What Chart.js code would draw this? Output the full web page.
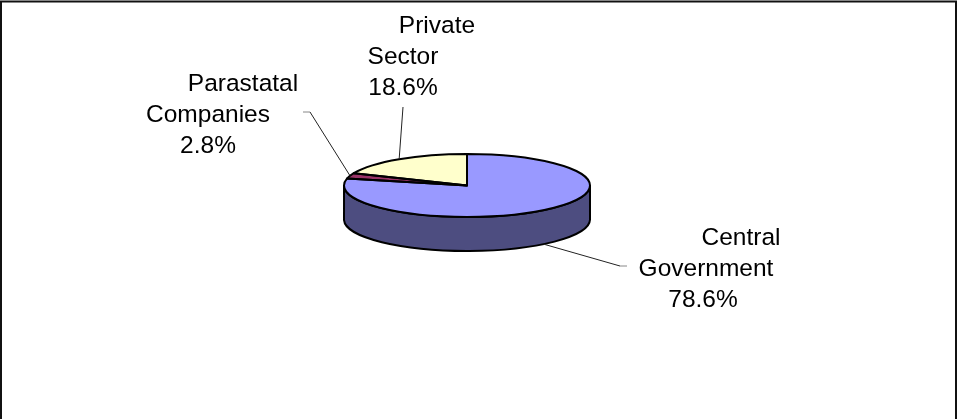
<!DOCTYPE html>
<html>
<head>
<meta charset="utf-8">
<script src="https://cdn.jsdelivr.net/npm/chart.js@4.4.1/dist/chart.umd.min.js"></script>
<style>
  html, body { margin: 0; padding: 0; background: #fff; }
  #wrap { position: relative; width: 959px; height: 419px; }
</style>
</head>
<body>
<div id="wrap"><canvas id="chart"></canvas></div>
<script>
// data
const categories = ['Central Government', 'Parastatal Companies', 'Private Sector'];
const shares = [78.6, 2.8, 18.6];
const labelLines = [
  ['Central', 'Government', '78.6%'],
  ['Parastatal', 'Companies', '2.8%'],
  ['Private', 'Sector', '18.6%']
];

// styles
const topColors = ['#9999FF', '#993366', '#FFFFCC'];
const sideColors = ['#4D4D80', '#4D1A33', '#808066'];

// layout of the fake 3d pie and the labels
const tilt = 0.256;
const depth = 34;
const font = '24.5px "Liberation Sans", Arial, sans-serif';
const lineHeight = 31;
const labelLayout = [
  { xs: [741, 706, 703], y: 245, end: [620, 266], stub: [627, 266] },
  { xs: [243, 208, 208], y: 90.5, end: [310, 112], stub: [303, 112] },
  { xs: [437, 403, 403], y: 33, end: [403, 107], stub: null }
];

function norm(a) {
  const t = Math.PI * 2;
  return ((a % t) + t) % t;
}

const pie3d = {
  id: 'pie3d',
  beforeDatasetsDraw(chart) {
    const ctx = chart.ctx;
    const arcs = chart.getDatasetMeta(0).data;

    // side walls, only the front half (0..PI) can be seen
    arcs.forEach((arc, i) => {
      const { x, y, startAngle, endAngle, outerRadius } = arc.getProps(['x', 'y', 'startAngle', 'endAngle', 'outerRadius'], true);
      const r = outerRadius;
      let s = startAngle;
      let e = endAngle;
      // walk the slice in steps to find the visible part
      const pieces = [];
      let cur = null;
      const steps = 200;
      for (let k = 0; k <= steps; k++) {
        const a = s + (e - s) * k / steps;
        const vis = norm(a) <= Math.PI;
        if (vis && !cur) cur = [a, a];
        if (vis && cur) cur[1] = a;
        if (!vis && cur) { pieces.push(cur); cur = null; }
      }
      if (cur) pieces.push(cur);

      pieces.forEach(([a, b]) => {
        if (b - a < 1e-4) return;
        ctx.save();
        ctx.beginPath();
        ctx.ellipse(x, y, r, r * tilt, 0, a, b, false);
        ctx.ellipse(x, y + depth, r, r * tilt, 0, b, a, true);
        ctx.closePath();
        ctx.fillStyle = sideColors[i];
        ctx.fill();
        ctx.lineWidth = 2;
        ctx.strokeStyle = '#000';
        ctx.lineJoin = 'round';
        ctx.stroke();
        ctx.restore();
      });
    });

    // squash the top face
    const a0 = arcs[0];
    ctx.save();
    ctx.translate(a0.x, a0.y);
    ctx.scale(1, tilt);
    ctx.translate(-a0.x, -a0.y);
  },
  afterDatasetsDraw(chart) {
    const ctx = chart.ctx;
    ctx.restore();
    const arcs = chart.getDatasetMeta(0).data;

    // outlines of the top face, drawn unscaled so the line width stays even
    arcs.forEach((arc) => {
      const { x, y, startAngle, endAngle, outerRadius } = arc.getProps(['x', 'y', 'startAngle', 'endAngle', 'outerRadius'], true);
      ctx.save();
      ctx.beginPath();
      ctx.moveTo(x, y);
      ctx.ellipse(x, y, outerRadius, outerRadius * tilt, 0, startAngle, endAngle, false);
      ctx.closePath();
      ctx.lineWidth = 2;
      ctx.lineJoin = 'round';
      ctx.strokeStyle = '#000';
      ctx.stroke();
      ctx.restore();
    });
  },
  afterDraw(chart) {
    const ctx = chart.ctx;
    const arcs = chart.getDatasetMeta(0).data;

    arcs.forEach((arc, i) => {
      const { x, y, startAngle, endAngle, outerRadius } = arc.getProps(['x', 'y', 'startAngle', 'endAngle', 'outerRadius'], true);
      const mid = (startAngle + endAngle) / 2;
      const off = norm(mid) <= Math.PI ? depth : 0;
      const px = x + outerRadius * Math.cos(mid);
      const py = y + off + outerRadius * tilt * Math.sin(mid);
      const lay = labelLayout[i];

      // leader line
      ctx.save();
      ctx.beginPath();
      ctx.moveTo(px, py);
      ctx.lineTo(lay.end[0], lay.end[1]);
      ctx.lineWidth = 1;
      ctx.strokeStyle = '#222';
      ctx.stroke();
      if (lay.stub) {
        ctx.beginPath();
        ctx.moveTo(lay.end[0], lay.end[1]);
        ctx.lineTo(lay.stub[0], lay.stub[1]);
        ctx.strokeStyle = '#888';
        ctx.stroke();
      }
      ctx.restore();

      // label text
      ctx.save();
      ctx.font = font;
      ctx.fillStyle = '#000';
      ctx.textAlign = 'center';
      ctx.textBaseline = 'alphabetic';
      labelLines[i].forEach((line, j) => {
        ctx.fillText(line, lay.xs[j], lay.y + j * lineHeight);
      });
      ctx.restore();
    });

    // frame
    ctx.save();
    ctx.beginPath();
    ctx.moveTo(1, 419);
    ctx.lineTo(1, 1.5);
    ctx.lineTo(956, 1.5);
    ctx.lineTo(956, 419);
    ctx.lineWidth = 2;
    ctx.strokeStyle = '#111';
    ctx.stroke();
    ctx.restore();
  }
};

new Chart(document.getElementById('chart'), {
  type: 'pie',
  data: {
    labels: categories,
    datasets: [{
      data: shares,
      backgroundColor: topColors,
      borderWidth: 0,
      offset: 0,
      hoverOffset: 0,
      clip: false
    }]
  },
  options: {
    responsive: true,
    maintainAspectRatio: false,
    animation: false,
    events: [],
    layout: { padding: { left: 344, right: 369, top: 62.5, bottom: 110.5 } },
    plugins: {
      legend: { display: false },
      tooltip: { enabled: false }
    }
  },
  plugins: [pie3d]
});
</script>
</body>
</html>
